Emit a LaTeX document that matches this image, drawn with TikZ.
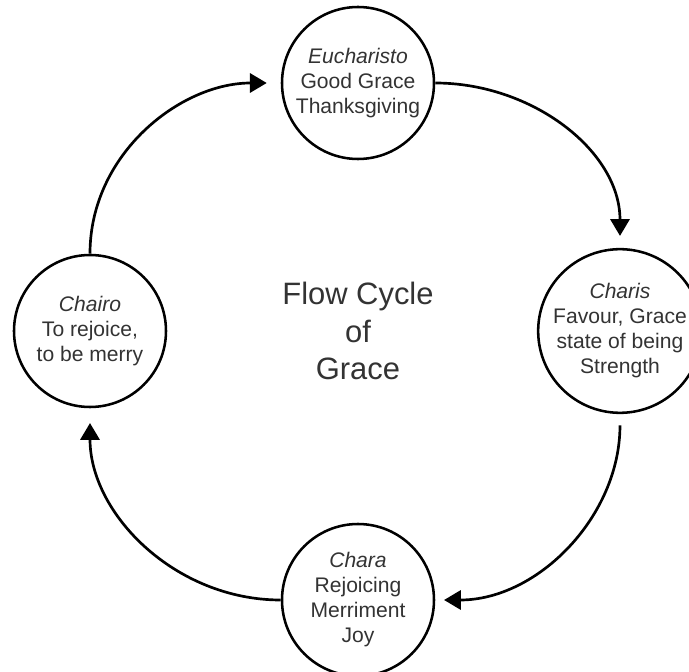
\documentclass[tikz,border=0pt]{standalone}
\usepackage{fontspec}
\setmainfont{Liberation Sans}
\usetikzlibrary{arrows.meta}

\begin{document}
\begin{tikzpicture}[-{Triangle[length=0.42cm,width=0.48cm]},line width=1.9pt,
		phase/.style={circle,draw=black,line width=1.8pt,inner sep=0pt,minimum size=3.8cm,align=center,text=black!80,font=\fontsize{15pt}{17.8pt}\selectfont}]

			\useasboundingbox (-8.95,-8.525) rectangle (8.275,8.275);

			\node (eucharisto)	at	(0,6.2) [phase] {\textit{Eucharisto}\\Good Grace\\Thanksgiving};
			\node (charis)	at 	(6.55,0) [phase] {\textit{Charis}\\Favour, Grace\\state of being\\Strength};
			\node (chara)	at 	(0,-6.725) [phase] {\textit{Chara}\\Rejoicing\\Merriment\\Joy};
			\node (chairo)	at 	(-6.7,0) [phase] {\textit{Chairo}\\To rejoice,\\to be merry};
			\node (cycle)	at	(0,0) [align=center,text=black!80,font=\fontsize{22pt}{26.5pt}\selectfont] {Flow Cycle\\of\\Grace};

			\draw [shorten >=0.3cm] (eucharisto.east) to [out=0,in=90] (charis.north);
			\draw [shorten <=0.28cm,shorten >=0.22cm] (charis.south) to [out=-90,in=0] (chara.east);
			\draw [shorten >=0.37cm] (chara.west) to [out=180,in=-90] (chairo.south);
			\draw [shorten >=0.35cm] (chairo.north) to [out=90,in=180] (eucharisto.west);

		\end{tikzpicture}
\end{document}
